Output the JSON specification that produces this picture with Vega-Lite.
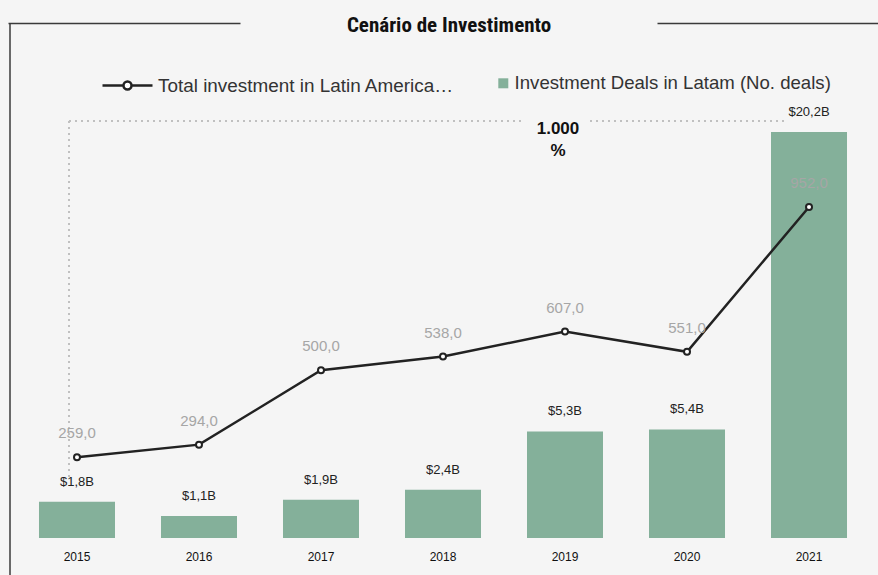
{
  "$schema": "https://vega.github.io/schema/vega-lite/v6.json",
  "width": 870,
  "height": 552,
  "autosize": {"type": "none"},
  "padding": {"left": 8, "top": 23, "right": 0, "bottom": 0},
  "background": "#f5f5f5",
  "title": {
    "text": "Cenário de Investimento",
    "font": "Roboto Condensed, Liberation Sans Narrow, Roboto",
    "fontSize": 21,
    "fontWeight": "bold",
    "color": "#111111",
    "anchor": "middle",
    "dx": 6,
    "offset": -24,
    "baseline": "middle"
  },
  "data": {
    "values": [
      {"year": "2015", "investment": 1.8, "deals": 259},
      {"year": "2016", "investment": 1.1, "deals": 294},
      {"year": "2017", "investment": 1.9, "deals": 500},
      {"year": "2018", "investment": 2.4, "deals": 538},
      {"year": "2019", "investment": 5.3, "deals": 607},
      {"year": "2020", "investment": 5.4, "deals": 551},
      {"year": "2021", "investment": 20.2, "deals": 952}
    ]
  },
  "layer": [
    {
      "encoding": {
        "x": {
          "field": "year",
          "type": "nominal",
          "scale": {"type": "band", "domain": ["2015", "2016", "2017", "2018", "2019", "2020", "2021"], "paddingInner": 0.377, "paddingOuter": 0.254},
          "axis": {
            "orient": "bottom",
            "title": null,
            "domain": false,
            "ticks": false,
            "labelAngle": 0,
            "labelFontSize": 12,
            "labelColor": "#111111",
            "labelPadding": 3,
            "offset": -27
          }
        }
      },
      "layer": [
        {
          "mark": {"type": "bar", "color": "#84b09a"},
          "encoding": {
            "y": {
              "field": "investment",
              "type": "quantitative",
              "scale": {"domain": [-1.84, 25.62], "nice": false, "zero": false},
              "axis": {
                "orient": "left",
                "title": null,
                "labels": false,
                "ticks": false,
                "grid": false,
                "domain": true,
                "domainColor": "#3a3a3a",
                "domainWidth": 1.5,
                "offset": -1.5
              }
            },
            "y2": {"datum": 0},
            "fill": {
              "datum": "Investment Deals in Latam (No. deals)",
              "scale": {"range": ["#84b09a"]},
              "legend": {
                "orient": "none",
                "legendX": 486,
                "legendY": 51,
                "title": null,
                "symbolType": "square",
                "symbolSize": 100,
                "symbolStrokeWidth": 0,
                "labelFontSize": 18.6,
                "labelColor": "#333333",
                "labelOffset": 2,
                "labelLimit": 400
              }
            }
          }
        },
        {
          "mark": {"type": "text", "fontSize": 13, "color": "#222222", "baseline": "middle", "dy": -20},
          "encoding": {
            "y": {"field": "investment", "type": "quantitative"},
            "text": {"field": "investment", "type": "quantitative", "format": "$.1f"}
          }
        },
        {
          "data": {"values": [{}]},
          "mark": {"type": "rule", "color": "#c0c0c0", "strokeWidth": 2, "strokeDash": [2, 4], "xOffset": -8},
          "encoding": {
            "x": {"datum": "2015"},
            "y": {"datum": 3.03},
            "y2": {"datum": 20.75}
          }
        },
        {
          "data": {"values": [{}]},
          "mark": {"type": "rule", "color": "#c0c0c0", "strokeWidth": 2, "strokeDash": [2, 4], "xOffset": -8, "x2Offset": -40},
          "encoding": {
            "x": {"datum": "2015"},
            "x2": {"datum": "2019"},
            "y": {"datum": 20.75}
          }
        },
        {
          "data": {"values": [{}]},
          "mark": {"type": "rule", "color": "#c0c0c0", "strokeWidth": 2, "strokeDash": [2, 4], "xOffset": 25, "x2Offset": -22},
          "encoding": {
            "x": {"datum": "2019"},
            "x2": {"datum": "2021"},
            "y": {"datum": 20.75}
          }
        },
        {
          "data": {"values": [{}]},
          "mark": {"type": "text", "fontSize": 17, "fontWeight": "bold", "color": "#111111", "baseline": "top", "align": "center", "lineBreak": "\n", "lineHeight": 22, "dx": -7},
          "encoding": {
            "x": {"datum": "2019"},
            "y": {"datum": 20.75},
            "text": {"value": "1.000\n%"}
          }
        }
      ]
    },
    {
      "encoding": {
        "x": {
          "field": "year",
          "type": "nominal",
          "scale": {"type": "band", "domain": ["2015", "2016", "2017", "2018", "2019", "2020", "2021"], "paddingInner": 0.377, "paddingOuter": 0.254},
          "axis": {
            "orient": "top",
            "title": null,
            "labels": false,
            "ticks": false,
            "domain": true,
            "domainColor": "#3a3a3a",
            "domainWidth": 1.5,
            "domainDash": [232, 417, 400]
          }
        },
        "y": {
          "field": "deals",
          "type": "quantitative",
          "scale": {"domain": [-66.9, 1461.4], "nice": false, "zero": false},
          "axis": null
        }
      },
      "layer": [
        {
          "mark": {"type": "line", "strokeWidth": 2.5},
          "encoding": {
            "stroke": {
              "datum": "Total investment in Latin America…",
              "scale": {"range": ["#222222"]},
              "legend": {
                "orient": "none",
                "legendX": 93,
                "legendY": 36,
                "title": null,
                "symbolType": "M-1,0L-0.16,0M0.16,0L1,0M-0.16,0A0.16,0.16,0,1,1,0.16,0A0.16,0.16,0,1,1,-0.16,0",
                "symbolSize": 2500,
                "symbolStrokeWidth": 2.5,
                "symbolFillColor": "#ffffff",
                "labelFontSize": 18.9,
                "labelColor": "#333333",
                "labelOffset": 4,
                "labelLimit": 400
              }
            }
          }
        },
        {
          "mark": {"type": "point", "filled": true, "fill": "#ffffff", "stroke": "#222222", "strokeWidth": 2, "size": 36, "opacity": 1}
        },
        {
          "mark": {"type": "text", "fontSize": 15, "color": "#a6a6a6", "baseline": "middle", "dy": -24},
          "encoding": {
            "text": {"field": "deals", "type": "quantitative", "format": ".1f"}
          }
        }
      ]
    }
  ],
  "resolve": {"scale": {"x": "independent", "y": "independent"}},
  "config": {
    "font": "Liberation Sans",
    "view": {"stroke": null},
    "locale": {
      "number": {"decimal": ",", "thousands": ".", "grouping": [3], "currency": ["$", "B"]}
    }
  }
}
